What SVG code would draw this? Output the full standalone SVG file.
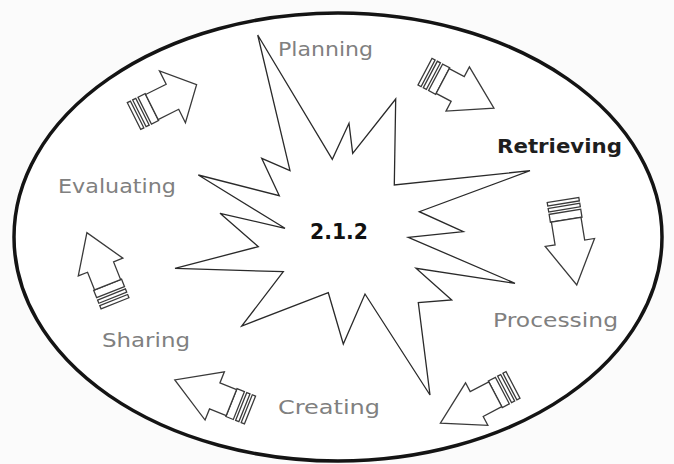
<svg xmlns="http://www.w3.org/2000/svg" width="674" height="464" viewBox="0 0 674 464">
<style>
.bg{fill:#fbfbfb}
.frame{fill:#ffffff;stroke:#141414;stroke-width:3.5}
.star{fill:#ffffff;stroke:#2a2a2a;stroke-width:1.3;stroke-linejoin:miter}
.arr{fill:#ffffff;stroke:#3a3a3a;stroke-width:1.3;stroke-linejoin:miter}
.lbl{font-family:"DejaVu Sans","Liberation Sans",sans-serif;font-size:20px;fill:#808080}
.lblb{font-family:"DejaVu Sans","Liberation Sans",sans-serif;font-size:20px;font-weight:bold;fill:#1e1e1e}
.ctr{font-family:"DejaVu Sans","Liberation Sans",sans-serif;font-size:21px;font-weight:bold;fill:#111}
</style>
<rect class="bg" x="0" y="0" width="674" height="464"/>
<g id="frame">
<ellipse class="frame" cx="338" cy="237" rx="324" ry="224"/>
</g>
<g id="star">
<polygon class="star" points="257.7,35 332.3,159.3 349,123.3 352.7,153.3 395.7,99 394.3,185 530,170.7 419.3,211.7 463.3,231.7 408.3,237.3 515,283.3 416,268.3 451.7,300 418.3,302.7 430,395 365,294 343.3,344 328.3,292.7 241.7,326 283.3,271.7 175,268.3 258.3,246.7 220,213.3 285,228.3 198.3,175 279.3,195.7 261.7,158.3 290,170.7"/>
<text class="ctr" x="310" y="239" textLength="58" lengthAdjust="spacingAndGlyphs">2.1.2</text>
</g>
<g id="planning"><text class="lbl" x="278" y="56" textLength="95" lengthAdjust="spacingAndGlyphs">Planning</text></g>
<g id="retrieving"><text class="lblb" x="497" y="153" textLength="125" lengthAdjust="spacingAndGlyphs">Retrieving</text></g>
<g id="processing"><text class="lbl" x="493" y="327" textLength="125" lengthAdjust="spacingAndGlyphs">Processing</text></g>
<g id="creating"><text class="lbl" x="278" y="414" textLength="102" lengthAdjust="spacingAndGlyphs">Creating</text></g>
<g id="sharing"><text class="lbl" x="102" y="347" textLength="88" lengthAdjust="spacingAndGlyphs">Sharing</text></g>
<g id="evaluating"><text class="lbl" x="58" y="193" textLength="118" lengthAdjust="spacingAndGlyphs">Evaluating</text></g>
<g id="connectors">
<g transform="translate(134,116) rotate(-26.6)">
<rect class="arr" x="0" y="-15" width="3.5" height="30"/><rect class="arr" x="6" y="-15" width="3.5" height="30"/><rect class="arr" x="12" y="-15" width="8" height="30"/>
<polygon class="arr" points="20,-14 43,-14 43,-29 70,0 43,29 43,14 20,14"/>
</g>
<g transform="translate(425,71.7) rotate(27.9)">
<rect class="arr" x="0" y="-15" width="3.5" height="30"/><rect class="arr" x="6" y="-15" width="3.5" height="30"/><rect class="arr" x="12" y="-15" width="8" height="30"/>
<polygon class="arr" points="20,-14 37,-14 37,-25 78,0 37,25 37,14 20,14"/>
</g>
<g transform="translate(563,200) rotate(80.8)">
<rect class="arr" x="0" y="-16" width="3.5" height="32"/><rect class="arr" x="6" y="-16" width="3.5" height="32"/><rect class="arr" x="12" y="-16" width="8" height="32"/>
<polygon class="arr" points="20,-15 43,-15 43,-25 86,0 43,25 43,15 20,15"/>
</g>
<g transform="translate(513,385) rotate(152.3)">
<rect class="arr" x="0" y="-15" width="3.5" height="30"/><rect class="arr" x="6" y="-15" width="3.5" height="30"/><rect class="arr" x="12" y="-15" width="8" height="30"/>
<polygon class="arr" points="20,-14 41,-14 41,-24 82,0 41,24 41,14 20,14"/>
</g>
<g transform="translate(250,410) rotate(201.8)">
<rect class="arr" x="0" y="-15" width="3.5" height="30"/><rect class="arr" x="6" y="-15" width="3.5" height="30"/><rect class="arr" x="12" y="-15" width="8" height="30"/>
<polygon class="arr" points="20,-14 38,-14 38,-26 81,0 38,26 38,14 20,14"/>
</g>
<g transform="translate(115,303.3) rotate(248.3)">
<rect class="arr" x="0" y="-15" width="3.5" height="30"/><rect class="arr" x="6" y="-15" width="3.5" height="30"/><rect class="arr" x="12" y="-15" width="8" height="30"/>
<polygon class="arr" points="20,-14 39,-14 39,-24 76,0 39,24 39,14 20,14"/>
</g>
</g>
</svg>
